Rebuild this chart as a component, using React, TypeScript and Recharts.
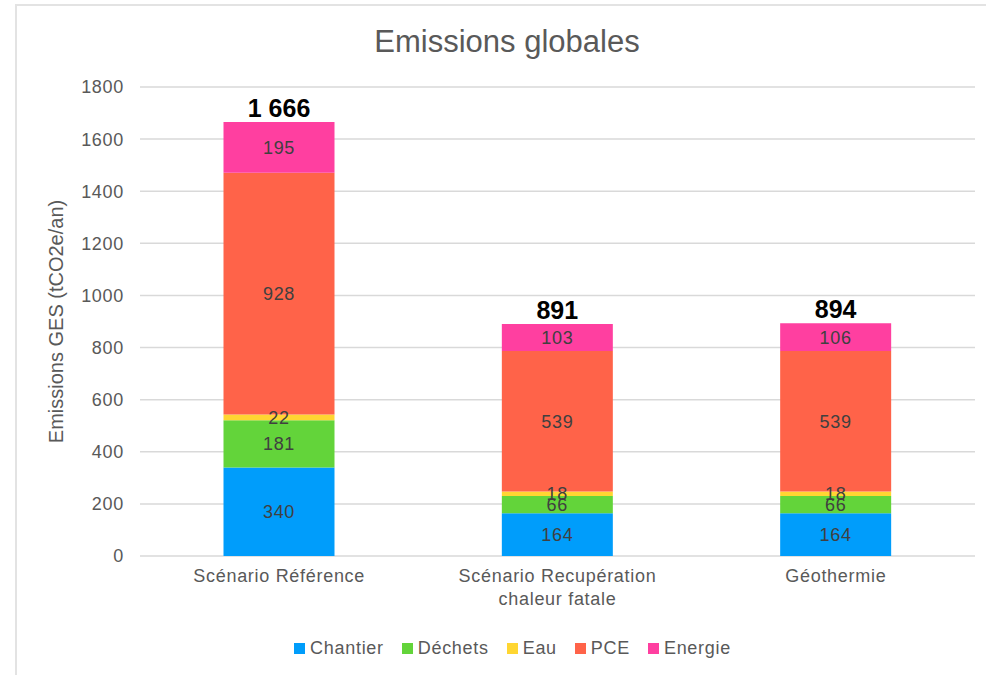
import React from "react";
import { BarChart, Bar, XAxis, YAxis, CartesianGrid, LabelList, Legend } from "recharts";

const categories = ["Scénario Référence", "Scénario Recupération\nchaleur fatale", "Géothermie"];
const chantier = [340, 164, 164];
const dechets = [181, 66, 66];
const eau = [22, 18, 18];
const pce = [928, 539, 539];
const energie = [195, 103, 106];
const totals = ["1 666", "891", "894"];
const yTicks = [0, 200, 400, 600, 800, 1000, 1200, 1400, 1600, 1800];

const series = [
  { key: "chantier", name: "Chantier", color: "#009DFB" },
  { key: "dechets", name: "Déchets", color: "#63D43A" },
  { key: "eau", name: "Eau", color: "#FFD632" },
  { key: "pce", name: "PCE", color: "#FF6349" },
  { key: "energie", name: "Energie", color: "#FF3FA0" },
];

const data = categories.map((c, i) => ({
  name: c,
  chantier: chantier[i],
  dechets: dechets[i],
  eau: eau[i],
  pce: pce[i],
  energie: energie[i],
  total: totals[i],
}));

const FONT = "'Liberation Sans', Arial, sans-serif";
const TXT = "#595959";

const CategoryTick = (props: any) => {
  const { x, y, payload } = props;
  const lines = String(payload.value).split("\n");
  return (
    <text x={x} y={y} textAnchor="middle" fill={TXT} fontSize={18} fontFamily={FONT} letterSpacing={0.7}>
      {lines.map((l, i) => (
        <tspan key={i} x={x} dy={i === 0 ? 18 : 23}>
          {l}
        </tspan>
      ))}
    </text>
  );
};

const LegendContent = () => (
  <div
    style={{
      height: 44,
      display: "flex",
      justifyContent: "center",
      alignItems: "center",
      gap: 18,
      paddingLeft: 34,
      boxSizing: "border-box",
      fontFamily: FONT,
      fontSize: 18,
      letterSpacing: 0.7,
      color: TXT,
    }}
  >
    {series.map((s) => (
      <div key={s.key} style={{ display: "flex", alignItems: "center" }}>
        <span style={{ display: "inline-block", width: 11, height: 11, background: s.color, marginRight: 5 }} />
        <span>{s.name}</span>
      </div>
    ))}
  </div>
);

export default function App() {
  return (
    <div style={{ position: "absolute", left: 0, top: 0, width: 986, height: 675, background: "#fff", overflow: "hidden" }}>
      <div
        style={{
          position: "absolute",
          left: 15,
          top: 4,
          right: 0,
          bottom: -10,
          borderLeft: "2px solid #e3e3e3",
          borderTop: "2px solid #e3e3e3",
        }}
      />
      <BarChart
        width={986}
        height={675}
        data={data}
        margin={{ top: 87, right: 11, left: 16, bottom: 5 }}
        barCategoryGap="30%"
      >
        <CartesianGrid vertical={false} stroke="#d9d9d9" strokeWidth={1.5} />
        <XAxis
          dataKey="name"
          axisLine={false}
          tickLine={false}
          height={70}
          interval={0}
          tick={<CategoryTick />}
        />
        <YAxis
          width={124}
          domain={[0, 1800]}
          ticks={yTicks}
          axisLine={false}
          tickLine={false}
          tickMargin={10}
          tick={{ fill: TXT, fontSize: 18, fontFamily: FONT, letterSpacing: 0.7 }}
          label={{
            value: "Emissions GES (tCO2e/an)",
            angle: -90,
            position: "insideLeft",
            offset: 40,
            style: { textAnchor: "middle", fill: TXT, fontSize: 20, fontFamily: FONT },
          }}
        />
        <Legend verticalAlign="bottom" content={<LegendContent />} />
        {series.map((s) => (
          <Bar key={s.key} dataKey={s.key} name={s.name} stackId="a" fill={s.color} isAnimationActive={false}>
            <LabelList
              dataKey={s.key}
              position="center"
              fill="#404040"
              fontSize={18}
              fontFamily={FONT}
              letterSpacing={0.7}
            />
            {s.key === "energie" && (
              <LabelList
                dataKey="total"
                position="top"
                offset={5}
                fill="#000"
                fontSize={25}
                fontWeight="bold"
                fontFamily={FONT}
              />
            )}
          </Bar>
        ))}
      </BarChart>
      <svg width={986} height={80} style={{ position: "absolute", left: 0, top: 0, pointerEvents: "none" }}>
        <text x={507} y={52} textAnchor="middle" fill={TXT} fontSize={31} fontFamily={FONT}>
          Emissions globales
        </text>
      </svg>
    </div>
  );
}
